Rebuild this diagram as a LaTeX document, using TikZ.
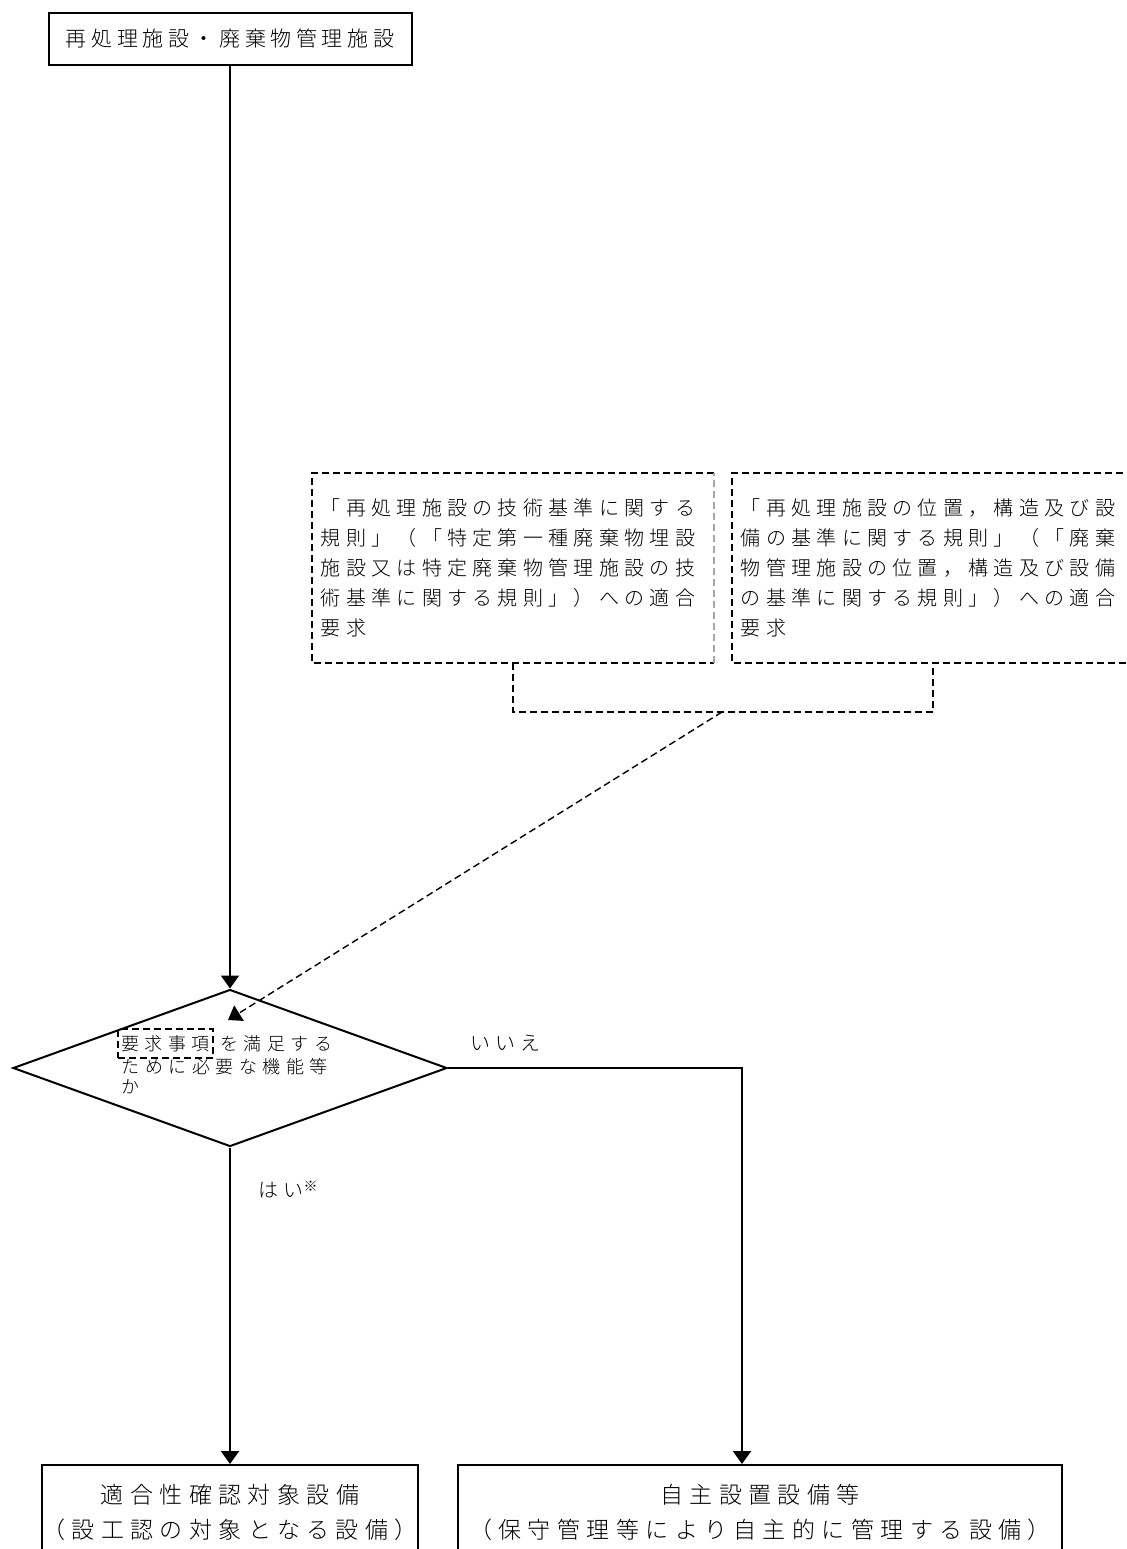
\documentclass[tikz,border=0pt]{standalone}
\usepackage{fontspec}
\usepackage{tikz}
\usetikzlibrary{arrows.meta,positioning,shapes.geometric}
\newfontfamily\jpfont[UprightFont={* Light}]{Noto Sans CJK JP}
\newcommand{\topfont}{\jpfont\fontsize{10.5}{13}\selectfont\addfontfeature{LetterSpace=22}}
\newcommand{\reqfont}{\jpfont\fontsize{10}{15}\selectfont\addfontfeature{LetterSpace=26.5}}
\newcommand{\askfont}{\jpfont\fontsize{9}{11.5}\selectfont\addfontfeature{LetterSpace=30.5}}
\newcommand{\outfont}{\jpfont\fontsize{11.5}{17.5}\selectfont\addfontfeature{LetterSpace=28}}
\tikzset{
  flow/box/.style={draw, line width=1pt, inner sep=0pt, align=center},
  flow/req/.style={text width=192pt, align=left, inner xsep=4.25pt, inner ysep=0pt, minimum height=94.5pt, font=\reqfont},
  flow/decision/.style={draw, diamond, line width=1pt, inner sep=0pt, minimum width=217pt, minimum height=78.5pt},
  flow/dash/.style={line width=0.7pt, dash pattern=on 3.5pt off 2pt},
  flow/word/.style={draw, flow/dash, inner sep=0pt, minimum width=47.5pt, minimum height=14.5pt, font=\askfont},
  flow/ask/.style={inner sep=0pt, font=\askfont},
  flow/label/.style={inner sep=0pt, font=\reqfont},
  flow/line/.style={line width=1pt},
  flow/arr/.style={flow/line, -{Triangle[length=6.5pt,width=9pt]}},
  flow/darr/.style={flow/dash, -{Triangle[length=6.5pt,width=9pt]}}
}
\begin{document}
\begin{tikzpicture}[x=0.5pt,y=-0.5pt]
  \useasboundingbox (0,0) rectangle (1126,1549);
  % facility and requirements
  \node[flow/box, minimum width=181.5pt, minimum height=26pt, font=\topfont] (facility) at (230,39) {再処理施設・廃棄物管理施設};
  \node[flow/req, anchor=north west] (reqL) at (312,473) {「再処理施設の技術基準に関する\\規則」（「特定第一種廃棄物埋設\\施設又は特定廃棄物管理施設の技\\術基準に関する規則」）への適合\\要求};
  \node[flow/req, anchor=north west] (reqR) at (732,473) {「再処理施設の位置，構造及び設\\備の基準に関する規則」（「廃棄\\物管理施設の位置，構造及び設備\\の基準に関する規則」）への適合\\要求};
  \draw[flow/dash] (reqL.north east) -- (reqL.north west) -- (reqL.south west) -- (reqL.south east);
  \draw[flow/dash, black!35] (reqL.south east) -- (reqL.north east);
  \draw[flow/dash] (reqR.north east) -- (reqR.north west) -- (reqR.south west) -- (reqR.south east);
  \coordinate (bracketY) at (0,712);
  \draw[flow/dash] (reqL.south) -- (reqL.south |- bracketY) -- (reqR.south |- bracketY) -- (reqR.south);
  % decision
  \node[flow/decision] (decide) at (230,1068) {};
  \node[flow/word] (reqword) at (165.5,1043.5) {要求事項};
  \node[flow/ask, anchor=base west] (reqrest) at ([xshift=3pt]reqword.base east) {を満足する};
  \node[flow/ask, anchor=base west] (reqline2) at ([xshift=2pt,yshift=-11.5pt]reqword.base west) {ために必要な機能等};
  \node[flow/ask, anchor=base west] (reqline3) at ([yshift=-10pt]reqline2.base west) {か};
  \coordinate (reqfrom) at (722,712);
  \coordinate (reqtip) at (228,1020);
  \draw[flow/darr] (reqfrom) -- (reqtip);
  \draw[flow/arr] (facility) -- (decide);
  % results
  \node[flow/box, anchor=north, minimum width=181pt, minimum height=47pt, font=\outfont] (conform) at (230,1464) {適合性確認対象設備\\（設工認の対象となる設備）};
  \node[flow/box, anchor=north, minimum width=302pt, minimum height=47pt, font=\outfont] (selfown) at (760,1464) {自主設置設備等\\（保守管理等により自主的に管理する設備）};
  \coordinate (noturn) at (742,1068);
  \draw[flow/arr] (decide.east) -- (noturn) -- (noturn |- selfown.north);
  \draw[flow/arr] (decide.south) -- (conform.north);
  \node[flow/label, anchor=west] (nolabel) at (470,1043) {いいえ};
  \node[flow/label, anchor=west] (yeslabel) at (258,1190) {はい\raisebox{3pt}{\fontsize{7}{7}\selectfont ※}};
\end{tikzpicture}
\end{document}
